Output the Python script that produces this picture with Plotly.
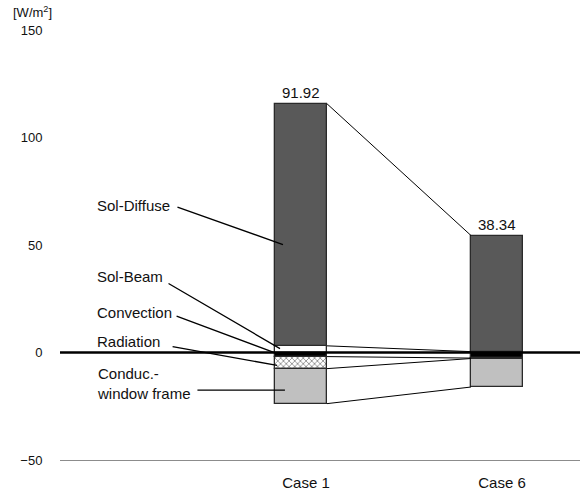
import plotly.graph_objects as go

# Heat gain components per case [W/m2]
cases = ["Case 1", "Case 6"]
sol_beam = [3.1, 0.4]
sol_diffuse = [112.6, 54.0]
convection = [-1.9, -2.6]
radiation = [-5.6, -0.2]
conduc_frame = [-16.28, -13.26]

y_ticks = [-50, 0, 50, 100, 150]

xpos = [0, 1]
bar_w = 0.265
font = dict(family="Liberation Sans, Arial, sans-serif", size=15, color="#111")
small_font = dict(family="Liberation Sans, Arial, sans-serif", size=13, color="#111")
edge = dict(color="#2a2a2a", width=1.3)

fig = go.Figure()

# stacked bars (positives stack upward, negatives downward)
fig.add_bar(x=xpos, y=sol_beam, width=bar_w, name="Sol-Beam",
            marker=dict(color="white", line=edge))
fig.add_bar(x=xpos, y=sol_diffuse, width=bar_w, name="Sol-Diffuse",
            marker=dict(color="#595959", line=edge))
fig.add_bar(x=xpos, y=convection, width=bar_w, name="Convection",
            marker=dict(color="black", line=edge))
fig.add_bar(x=xpos, y=radiation, width=bar_w, name="Radiation",
            marker=dict(color="white", line=edge,
                        pattern=dict(shape="x", fgcolor="black", bgcolor="white",
                                     size=4, solidity=0.35)))
fig.add_bar(x=xpos, y=conduc_frame, width=bar_w, name="Conduc.-window frame",
            marker=dict(color="#c0c0c0", line=edge))

# series lines joining segment boundaries between the two cases
pos_top = [b + d for b, d in zip(sol_beam, sol_diffuse)]
conv_bot = list(convection)
rad_bot = [c + r for c, r in zip(convection, radiation)]
frame_bot = [c + r + f for c, r, f in zip(convection, radiation, conduc_frame)]
boundaries = [pos_top, sol_beam, conv_bot, rad_bot, frame_bot]
x_link = [xpos[0] + bar_w / 2, xpos[1] - bar_w / 2]
for b in boundaries:
    fig.add_scatter(x=x_link, y=b, mode="lines",
                    line=dict(color="black", width=1), hoverinfo="skip")

# net totals above each bar
totals = [p + n for p, n in zip(pos_top, frame_bot)]
for xi, top, tot in zip(xpos, pos_top, totals):
    fig.add_annotation(x=xi, y=top, text=f"{tot:.2f}", showarrow=False,
                       yanchor="bottom", yshift=1, font=font)

# component labels with leader lines
labels = [
    ("Sol-Diffuse", 68.2, 50.2, -0.092, -107, -38),
    ("Sol-Beam", 35.5, 1.8, -0.107, -113, -66),
    ("Convection", 18.4, -0.5, -0.122, -102, -38),
    ("Radiation", 5.0, -6.0, -0.122, -106, -19),
    ("Conduc.-<br>window frame", -14.3, -17.5, -0.082, -89, 0),
]
x_text = -1.051
for text, ty, hy, hx, ax, ay in labels:
    fig.add_annotation(x=x_text, y=ty, text=text, showarrow=False,
                       xanchor="left", align="left", font=font)
    fig.add_annotation(x=hx, y=hy, text="", showarrow=True, arrowhead=0,
                       arrowwidth=1.3, arrowcolor="black", ax=ax, ay=ay)

# unit label
fig.add_annotation(xref="paper", yref="paper", x=-0.052, y=1.0415,
                   xanchor="center", yanchor="middle",
                   text="[W/m<sup>2</sup>]", showarrow=False, font=small_font)

# heavy zero line across the plot
fig.add_shape(type="line", xref="paper", x0=0, x1=1, yref="y", y0=0, y1=0,
              line=dict(color="black", width=2.5), layer="above")

fig.update_layout(
    width=580, height=491,
    margin=dict(l=60, r=0, t=30, b=27),
    barmode="relative", bargap=0,
    plot_bgcolor="white", paper_bgcolor="white",
    showlegend=False, font=font,
)
fig.update_xaxes(range=[-1.2296, 1.4235], tickvals=xpos, ticktext=cases,
                 showgrid=False, zeroline=False, showline=True,
                 linecolor="#8c8c8c", linewidth=1, ticklabelshift=5,
                 ticks="outside", ticklen=9, tickcolor="rgba(0,0,0,0)",
                 tickfont=font)
fig.update_yaxes(range=[-50, 150], tickvals=y_ticks, showgrid=False,
                 zeroline=False, showline=False, tickfont=small_font,
                 ticks="outside", ticklen=14, tickcolor="rgba(0,0,0,0)")

fig.write_html("out.html")
